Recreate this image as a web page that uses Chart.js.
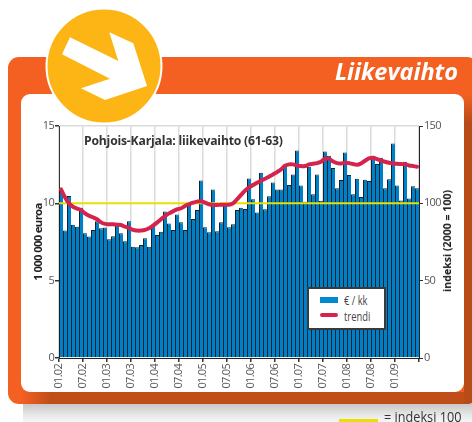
<!DOCTYPE html>
<html><head><meta charset="utf-8">
<style>
html,body{margin:0;padding:0;background:#fff;width:472px;height:422px;overflow:hidden}
#wrap{position:relative;width:472px;height:422px;overflow:hidden;font-family:"Open Sans","Noto Sans",sans-serif}
#wrap>*{position:absolute}
#shadow{left:23px;top:400px;width:449px;height:22px;background:linear-gradient(to bottom,#c4c4c4 0,#cccccc 25%,#e6e6e6 65%,#f6f6f6 100%)}
#panel{left:8px;top:57px;width:470px;height:347px;border-radius:11px;background:#f46022;overflow:hidden}
#darkB{left:13px;top:335px;width:457px;height:12px;background:linear-gradient(to right,rgba(190,76,22,0) 0,#c04e18 30px);position:absolute}
#darkR{left:456px;top:37px;width:14px;height:310px;background:linear-gradient(to bottom,rgba(190,76,22,0) 0,#b84c18 28px);position:absolute}
#inner{left:21px;top:94px;width:443px;height:298px;border-radius:9px;background:#fff}
#cv{left:0;top:0}
#heading{right:14px;top:56px;color:#fff;font:italic 700 23.5px "Open Sans",sans-serif;line-height:30px;white-space:nowrap}
#ctitle{left:84px;top:133px;color:#333;font:700 12.2px "Open Sans",sans-serif;line-height:16px;white-space:nowrap;letter-spacing:-.2px}
#rtitle{left:446.5px;top:241px;color:#222;font:700 10.6px "Open Sans",sans-serif;line-height:14px;white-space:nowrap;transform:translate(-50%,-50%) rotate(-90deg)}
#legend{left:307px;top:287px;width:75px;height:39px;border:2px solid #3a3a3a;background:#fff}
.sw{position:absolute}
.lt{position:absolute;left:344px;color:#444;font:13px "Open Sans",sans-serif;line-height:14px;white-space:nowrap;transform:scaleX(.72);transform-origin:left center}
#ref{left:384px;top:407px;color:#333;font:15px "Open Sans",sans-serif;line-height:18px;white-space:nowrap;transform:scaleX(.846);transform-origin:left center}
</style>
<script src="https://cdn.jsdelivr.net/npm/chart.js@4"></script>
</head><body>
<div id="wrap">
<div id="shadow"></div>
<div id="panel"><div id="darkB"></div><div id="darkR"></div></div>
<div id="inner"></div>
<canvas id="cv" width="472" height="422"></canvas>
<svg style="left:0;top:0" width="472" height="130" viewBox="0 0 472 130">
<circle cx="104" cy="66" r="57.5" fill="#fdb515" stroke="#fff" stroke-width="2"/>
<polygon fill="#fff" points="70,37.3 118.3,61 109.3,32.3 133.3,43.3 147,86 105,100 81,88.3 110,78.7 62,54.3"/>
</svg>
<div id="heading">Liikevaihto</div>
<div id="ctitle">Pohjois-Karjala: liikevaihto (61-63)</div>
<div id="rtitle">indeksi (2000 = 100)</div>
<div id="legend"></div>
<div class="sw" style="left:320px;top:297px;width:18px;height:6px;background:#0089cf"></div>
<div class="sw" style="left:320px;top:313px;width:18px;height:3.5px;border-radius:2px;background:#d4244e"></div>
<div class="lt" style="top:293px">€ / kk</div>
<div class="lt" style="top:309px">trendi</div>
<div class="sw" style="left:339px;top:419px;width:39px;height:3px;background:#e8e000"></div>
<div id="ref">= indeksi 100</div>
</div>
<script>
const tickLabels=['01.02','07.02','01.03','07.03','01.04','07.04','01.05','07.05','01.06','07.06','01.07','07.07','01.08','07.08','01.09'];
const monthlyEuro=[10.86,8.24,10.47,8.62,8.49,9.72,8.06,7.85,8.28,8.84,8.39,8.43,
7.68,7.87,8.60,8.06,7.55,8.84,7.20,7.16,7.31,7.74,7.20,8.60,
7.96,8.17,9.48,8.69,8.28,9.27,8.77,8.28,9.89,8.99,9.57,11.48,
8.45,8.13,10.90,8.19,8.77,9.89,8.45,8.65,9.57,9.72,9.63,11.61,
10.26,9.40,11.98,9.61,10.45,11.35,10.90,10.90,12.43,11.18,11.87,13.42,
11.16,10.11,12.37,10.58,11.87,10.17,13.35,13.08,12.28,10.97,11.51,13.29,
11.83,10.58,11.59,10.41,11.53,11.44,13.03,12.54,12.95,10.97,11.55,13.87,
11.16,10.19,12.69,10.32,11.10,10.97];
const trendIndex=[109,103.9,100,97.8,96.6,95.7,93.5,92,91,89.7,87.7,86.7,
86.5,86.5,86.2,86,84.9,84.1,82.8,82.4,82.4,82.8,83.9,85.6,
87.5,89.7,91.8,93.5,94.8,96.1,96.8,98.3,99.4,100.4,101.1,101.3,
100.4,99.4,98.9,98.9,99.1,99.1,99.1,100,102.6,105.4,108.2,110.3,
111.8,113.3,114.6,115.9,117.2,118.7,120.2,121.9,124.3,125.2,125.2,124.5,
124.1,124.1,125.2,125.6,126,126.9,128.8,128.8,127.1,126,125.8,126.2,
126,125.4,124.9,125.8,127.5,129,129.5,128.6,127.7,126.9,126.2,125.8,
125.6,125.4,125.2,124.5,124.1,123.7];
const indexLevel=100;
const months=monthlyEuro.length;
const font={family:'"Open Sans",sans-serif',size:11};
const tightText={id:'tightText',beforeDraw(c){c.ctx.letterSpacing='-0.7px'}};
new Chart(document.getElementById('cv'),{
 type:'bar',
 plugins:[tightText],
 data:{datasets:[
  {type:'line',label:'trendi',order:0,yAxisID:'y1',data:trendIndex.map((v,i)=>({x:i+0.5,y:v})),borderColor:'#d4244e',borderWidth:4,pointRadius:0,tension:0.4,borderCapStyle:'round'},
  {type:'line',label:'indeksi 100',order:1,yAxisID:'y1',data:[{x:0,y:indexLevel},{x:months,y:indexLevel}],borderColor:'#e8e000',borderWidth:2,pointRadius:0},
  {type:'bar',label:'€ / kk',order:2,yAxisID:'y',data:monthlyEuro.map((v,i)=>({x:i+0.5,y:v})),backgroundColor:'#0080c6',borderColor:'#10242f',borderWidth:{left:1,top:1,right:0,bottom:0},borderSkipped:false,inflateAmount:0,barPercentage:1,categoryPercentage:1}
 ]},
 options:{
  responsive:false,animation:false,
  layout:{padding:{left:32,right:20,top:126,bottom:0}},
  plugins:{legend:{display:false},title:{display:false},tooltip:{enabled:false}},
  scales:{
   x:{type:'linear',min:0,max:months,offset:false,
      afterFit(s){s.height=64},
      grid:{offset:false,color:'#dcdcdc',lineWidth:1.5,tickColor:'#333',tickLength:4,drawTicks:true},
      border:{color:'#222',width:1},
      ticks:{stepSize:6,autoSkip:false,maxRotation:90,minRotation:90,padding:2,color:'#555',font,callback:v=>tickLabels[v/6]??''}},
   y:{position:'left',min:0,max:15,
      afterFit(s){s.width=27},
      grid:{color:c=>c.tick&&c.tick.value===15?'#dcdcdc':'rgba(0,0,0,0)',lineWidth:1.5,tickColor:'#333',tickLength:4},
      border:{color:'#333',width:1},
      ticks:{stepSize:5,padding:1,color:'#555',font},
      title:{display:true,text:'1 000 000 euroa',color:'#222',padding:0,font:{family:'"Open Sans",sans-serif',size:11.4,weight:'700'}}},
   y1:{position:'right',min:0,max:150,
      afterFit(s){s.width=33},
      grid:{drawOnChartArea:false,tickColor:'#333',tickLength:4},
      border:{color:'#222',width:1},
      ticks:{stepSize:50,padding:1,color:'#555',font}}
  }
 }
});
</script>
</body></html>
